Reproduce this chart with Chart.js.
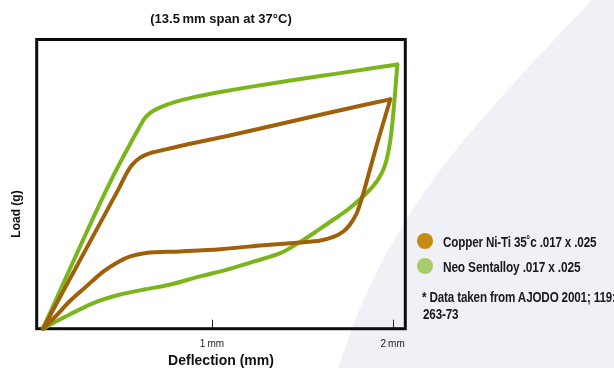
<!DOCTYPE html>
<html><head><meta charset="utf-8">
<script src="https://cdn.jsdelivr.net/npm/chart.js@4/dist/chart.umd.min.js"></script>
<style>
html,body{margin:0;padding:0;background:#fff;overflow:hidden}
#wrap{position:relative;width:614px;height:368px;overflow:hidden}
canvas{position:absolute;left:0;top:0}
.leg{position:absolute;font-family:"Liberation Sans",Arial,sans-serif;font-weight:bold;font-size:15px;line-height:16px;color:#1a1a1a;white-space:nowrap;transform-origin:0 0;letter-spacing:-0.2px}
.dot{position:absolute;width:16px;height:16px;border-radius:50%}
</style></head>
<body><div id="wrap"><canvas id="c" width="614" height="368"></canvas><div id="legend"></div></div>
<script>
// ---- data (deflection in mm, load in g — load scale unlabeled in the source) ----
const chartTitle = "(13.5\u2009mm span at 37\u00B0C)";
const xTitle = "Deflection (mm)";
const yTitle = "Load (g)";
const xTicks = [1, 2];
const xTickLabels = ["1\u2009mm", "2\u2009mm"];
const seriesNames = ["Copper Ni-Ti 35\u02DAc .017 x .025", "Neo Sentalloy .017 x .025"];
const footnote = ["* Data taken from AJODO 2001; 119:", "263-73"];

const copperLoadX = [0.064, 0.480, 0.525, 0.559, 0.603, 0.658, 0.725, 0.880, 1.079, 1.323, 1.600, 1.821, 1.987];
const copperLoadY = [0, 139, 155, 164.5, 171.5, 176, 179, 185.5, 193, 203, 214.5, 223.5, 230];
const copperUnloadX = [1.987, 1.910, 1.843, 1.821, 1.799, 1.766, 1.727, 1.672, 1.600, 1.489, 1.267, 1.046, 0.824, 0.636, 0.548, 0.481, 0.398, 0.304, 0.215, 0.138, 0.064];
const copperUnloadY = [230, 183, 139, 126, 115, 105, 97.5, 92, 88.5, 86.5, 83.5, 79.7, 77.5, 76, 72.5, 67, 57.3, 42.3, 28, 13, 0];

const neoLoadX = [0.064, 0.415, 0.620, 0.658, 0.714, 0.797, 0.896, 1.046, 1.229, 1.416, 1.600, 1.782, 2.026];
const neoLoadY = [0, 139, 209, 216.5, 222, 227.5, 232, 237.3, 243, 248.3, 253.3, 258.3, 265];
const neoUnloadX = [2.026, 2.009, 1.993, 1.976, 1.954, 1.921, 1.877, 1.821, 1.749, 1.677, 1.589, 1.506, 1.378, 1.229, 1.079, 0.935, 0.764, 0.631, 0.487, 0.343, 0.210, 0.121, 0.064];
const neoUnloadY = [265, 227, 197, 177, 162, 150, 140, 130, 119, 110, 99, 89, 75.7, 67.3, 59, 52.5, 44, 39.5, 34, 25.7, 14, 5.7, 0];

// ---- styles ----
const lineColors = ["#a0600a", "#7ab51b"];
const legendColors = ["#c68b10", "#a5cd69"];

const pts = (xs, ys) => xs.map((x, i) => ({x, y: ys[i]}));
function ds(label, xs, ys, color) {
  return {label, data: pts(xs, ys), showLine: true, borderColor: color, backgroundColor: color,
    borderWidth: 4, pointRadius: 0, tension: 0.3, fill: false, clip: 10,
    borderJoinStyle: 'round', borderCapStyle: 'round'};
}

Chart.defaults.font.family = '"Liberation Sans", Arial, Helvetica, sans-serif';

const decor = {
  id: 'decor',
  beforeDraw(chart) {
    const ctx = chart.ctx;
    ctx.save();
    ctx.fillStyle = '#ffffff';
    ctx.fillRect(0, 0, chart.width, chart.height);
    const p = [[592, 0], [477, 120], [405, 218], [362, 300], [338, 368]];
    ctx.fillStyle = '#eff1f6';
    ctx.beginPath();
    ctx.moveTo(chart.width, 0);
    ctx.lineTo(p[0][0], p[0][1]);
    for (let i = 1; i < p.length - 1; i++) {
      const mx = (p[i][0] + p[i + 1][0]) / 2, my = (p[i][1] + p[i + 1][1]) / 2;
      ctx.quadraticCurveTo(p[i][0], p[i][1], mx, my);
    }
    ctx.lineTo(p[p.length - 1][0], p[p.length - 1][1]);
    ctx.lineTo(chart.width, chart.height);
    ctx.closePath();
    ctx.fill();
    ctx.restore();
  },
  beforeDatasetsDraw(chart) {
    const {ctx, chartArea: a, scales: {x}} = chart;
    ctx.save();
    ctx.strokeStyle = '#222';
    ctx.lineWidth = 1;
    xTicks.forEach(v => {
      const px = Math.round(x.getPixelForValue(v)) + 0.5;
      ctx.beginPath(); ctx.moveTo(px, a.bottom); ctx.lineTo(px, a.bottom - 9); ctx.stroke();
    });
    ctx.lineWidth = 3;
    ctx.strokeStyle = '#0d0d0d';
    ctx.strokeRect(a.left, a.top, a.right - a.left, a.bottom - a.top);
    ctx.translate(16.5, 214);
    ctx.rotate(-Math.PI / 2);
    ctx.font = 'bold 12px "Liberation Sans", Arial, sans-serif';
    ctx.textAlign = 'center';
    ctx.textBaseline = 'middle';
    ctx.fillStyle = '#111';
    ctx.fillText(yTitle, 0, 0);
    ctx.restore();
  }
};

new Chart(document.getElementById('c'), {
  type: 'scatter',
  data: {
    datasets: [
      ds(seriesNames[0], copperLoadX, copperLoadY, lineColors[0]),
      ds(seriesNames[0], copperUnloadX, copperUnloadY, lineColors[0]),
      ds(seriesNames[1], neoLoadX, neoLoadY, lineColors[1]),
      ds(seriesNames[1], neoUnloadX, neoUnloadY, lineColors[1])
    ]
  },
  options: {
    responsive: false,
    animation: false,
    events: [],
    layout: {padding: {left: 36.7, right: 208.7, top: 0, bottom: 0}},
    plugins: {
      legend: {display: false},
      tooltip: {enabled: false},
      title: {display: true, text: chartTitle, fullSize: false, color: '#111',
        font: {size: 13, weight: 'bold', lineHeight: 1.2}, padding: {top: 12, bottom: 11.9}}
    },
    scales: {
      x: {
        type: 'linear', min: 0.03, max: 2.07,
        border: {display: false},
        grid: {display: false, drawTicks: false},
        afterBuildTicks: s => { s.ticks = xTicks.map(v => ({value: v})); },
        afterFit: s => { s.height = 39.3; },
        ticks: {autoSkip: false, maxRotation: 0, padding: 10, color: '#222', font: {size: 10},
          callback: v => xTickLabels[xTicks.indexOf(v)]},
        title: {display: true, text: xTitle, color: '#111', font: {size: 14, weight: 'bold', lineHeight: 1},
          padding: {top: 0, bottom: 0}}
      },
      y: {display: false, min: 0, max: 290}
    }
  },
  plugins: [decor]
});

// legend + footnote (HTML text, condensed to match the narrow typeface of the source)
const leg = document.getElementById('legend');
const legTops = [233.5, 258.5];
const dotCenters = [241.3, 266.3];
const legWidths = [153, 137];
let squeeze = 0.78;
seriesNames.forEach((name, i) => {
  const d = document.createElement('div');
  d.className = 'dot';
  d.style.left = (425.3 - 8) + 'px';
  d.style.top = (dotCenters[i] - 8) + 'px';
  d.style.background = legendColors[i];
  leg.appendChild(d);
  const t = document.createElement('div');
  t.className = 'leg';
  t.style.left = '443px';
  t.style.top = legTops[i] + 'px';
  t.textContent = name;
  leg.appendChild(t);
  const k = legWidths[i] / t.offsetWidth;
  if (i === 0) squeeze = k;
  t.style.transform = 'scaleX(' + k.toFixed(3) + ')';
});
footnote.forEach((line, i) => {
  const t = document.createElement('div');
  t.className = 'leg';
  t.style.left = (i === 0 ? 422 : 423) + 'px';
  t.style.top = (288.5 + i * 17.6) + 'px';
  t.textContent = line;
  t.style.transform = 'scaleX(' + squeeze.toFixed(3) + ')';
  leg.appendChild(t);
});
</script>
</body></html>
